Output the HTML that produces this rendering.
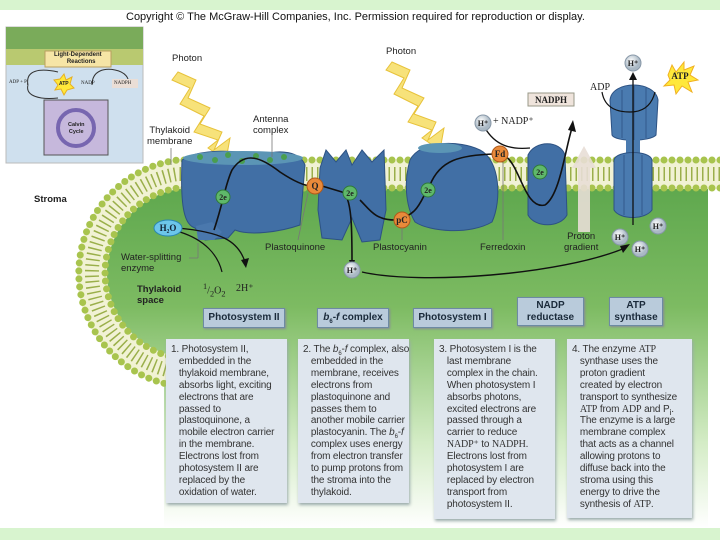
<!DOCTYPE html>
<html><head><meta charset="utf-8"><style>
body{margin:0;width:720px;height:540px;overflow:hidden;background:#fff;font-family:"Liberation Sans",sans-serif;position:relative}
.t{position:absolute;font-size:9.5px;color:#222;white-space:nowrap}
.lb{position:absolute;background:#b9cbdb;border:1px solid #6d8aa3;font-weight:bold;font-size:10px;color:#1a2a3a;text-align:center;box-shadow:1px 1px 2px #889}
.bx{position:absolute;background:#dfe6ee;box-shadow:1px 2px 3px #9aa;font-size:10px;letter-spacing:-0.15px;line-height:11.9px;color:#333;padding:5px 3px 4px 5px;box-sizing:border-box;white-space:nowrap}
.bx span.s{font-family:"Liberation Serif",serif}
</style></head><body>
<div style="position:absolute;left:0;top:0;width:720px;height:10px;background:#d8f4cf"></div>
<div class="t" style="left:126px;top:11px;font-size:11px;color:#111">Copyright © The McGraw-Hill Companies, Inc. Permission required for reproduction or display.</div>
<svg width="720" height="540" style="position:absolute;left:0;top:0">
<defs>
<linearGradient id="g" x1="0" y1="0" x2="0" y2="1"><stop offset="0" stop-color="#5fa84e"/><stop offset="0.35" stop-color="#7dbb62"/><stop offset="0.75" stop-color="#d4ecc6"/><stop offset="1" stop-color="#ffffff"/></linearGradient>
<radialGradient id="hb" cx="0.4" cy="0.35"><stop offset="0" stop-color="#fff"/><stop offset="1" stop-color="#a9b8c4"/></radialGradient>
</defs>
<path d="M708,188 L178,188 A86,86 0 0 0 150,355 L164,362 L164,528 L708,528 Z" fill="url(#g)"/>
<path d="M720,174 L178,174 A100,100 0 0 0 190,373" fill="none" stroke="#f1f2d4" stroke-width="30"/>
<path d="M720,174 L178,174 A100,100 0 0 0 190,373" fill="none" stroke="#9aaf4a" stroke-width="14" stroke-dasharray="1.5 4"/>
<path d="M720,160 L178,160 A114,114 0 0 0 190,387" fill="none" stroke="#a8c44e" stroke-width="7" stroke-linecap="round" stroke-dasharray="0 8"/>
<path d="M720,188 L178,188 A86,86 0 0 0 190,359" fill="none" stroke="#a8c44e" stroke-width="7" stroke-linecap="round" stroke-dasharray="0 8"/>
<!-- bolts -->
<polygon points="178,72 196,80 188,98 210,108 200,124 222,132 214,150 230,138 226,160 208,148 218,140 194,132 204,116 180,104 190,88 172,80" fill="#f7e27a" stroke="#e7c23a"/>
<polygon points="392,62 410,70 402,88 424,98 414,114 436,122 428,140 444,128 440,150 422,138 432,130 408,122 418,106 394,94 404,78 386,70" fill="#f7e27a" stroke="#e7c23a"/>
<!-- PSII -->
<path d="M182,160 C200,148 240,150 260,156 C280,148 300,152 305,165 L300,225 C280,232 250,236 235,230 L228,238 L205,240 L195,228 C185,225 180,210 182,160Z" fill="#416fa5" stroke="#2d5283"/>
<ellipse cx="243" cy="158" rx="60" ry="7" fill="#5b95b5"/>
<g fill="#4a9e4f"><circle cx="200" cy="157" r="3"/><circle cx="215" cy="160" r="3"/><circle cx="228" cy="155" r="3"/><circle cx="242" cy="161" r="3"/><circle cx="256" cy="156" r="3"/><circle cx="270" cy="160" r="3"/><circle cx="284" cy="157" r="3"/></g>
<path d="M196,226 L212,222 L222,232 L214,240 L198,240Z" fill="#4a78ad"/>
<!-- b6f -->
<path d="M320,168 L326,150 L336,162 L346,150 L352,165 L362,150 L372,162 L384,150 L386,210 L380,240 L362,242 L352,218 L342,240 L322,238 L318,210Z" fill="#416fa5" stroke="#2d5283"/>
<!-- PSI -->
<path d="M410,160 C420,140 460,140 480,150 C500,160 502,200 492,222 C470,235 430,232 415,222 C405,205 404,180 410,160Z" fill="#416fa5" stroke="#2d5283"/>
<ellipse cx="440" cy="148" rx="22" ry="5" fill="#5b95b5"/>
<!-- NADP reductase -->
<path d="M528,155 C535,140 560,140 565,155 L567,215 C560,228 535,228 528,215Z" fill="#416fa5" stroke="#2d5283"/>
<!-- ATP synthase -->
<path d="M610,100 C612,80 655,80 658,100 L656,135 C650,142 615,142 612,135Z" fill="#4a7bb0" stroke="#2d5283"/>
<rect x="626" y="138" width="14" height="20" fill="#4a7bb0"/>
<path d="M614,160 C616,150 650,150 652,160 L652,210 C645,220 620,220 614,210Z" fill="#4a7bb0" stroke="#2d5283"/>
<g stroke="#2d5283" stroke-width="0.8"><line x1="622" y1="90" x2="622" y2="138"/><line x1="634" y1="86" x2="634" y2="140"/><line x1="646" y1="88" x2="646" y2="138"/><line x1="624" y1="155" x2="624" y2="215"/><line x1="633" y1="152" x2="633" y2="218"/><line x1="642" y1="155" x2="642" y2="215"/></g>
<line x1="633" y1="225" x2="633" y2="78" stroke="#111" stroke-width="1.3"/><polygon points="629,80 633,72 637,80" fill="#111"/>
<path d="M602,92 C605,110 620,112 630,112 C645,112 652,104 655,92" fill="none" stroke="#111" stroke-width="1.2"/>
<!-- proton gradient arrow -->
<polygon points="578,232 578,168 572,168 584,146 596,168 590,168 590,232" fill="#e8ded6" opacity="0.9"/>
<!-- electron path -->
<path d="M214,230 C224,200 225,185 232,170 C245,150 262,158 280,172 C295,182 305,186 312,186 M322,186 L342,192 C352,196 352,230 352,262 M360,200 C370,210 375,220 395,220 C420,215 420,200 430,185 C440,160 460,155 495,154 M505,156 C520,165 525,210 545,205 C560,195 565,150 572,128" fill="none" stroke="#111" stroke-width="1.6"/>
<polygon points="349,260 352,268 355,260" fill="#111"/>
<polygon points="568,130 573,120 576,132" fill="#111"/>
<path d="M485,128 C495,145 510,150 530,148" fill="none" stroke="#111" stroke-width="1.3"/>
<path d="M362,272 C420,285 560,275 625,248" fill="none" stroke="#111" stroke-width="1.4"/><polygon points="620,246 630,244 623,253" fill="#111"/>
<path d="M178,228 C220,232 238,240 245,262" fill="none" stroke="#111" stroke-width="1.3"/><polygon points="241,260 246,268 249,258" fill="#111"/>
<path d="M180,232 C205,240 218,255 222,272" fill="none" stroke="#111" stroke-width="1.2"/>
<!-- small circles -->
<g font-family="Liberation Serif" font-size="9" text-anchor="middle" font-weight="bold">
<circle cx="315" cy="186" r="8" fill="#e98a3a" stroke="#b25a1a"/><text x="315" y="189" fill="#222">Q</text>
<circle cx="402" cy="220" r="8" fill="#e98a3a" stroke="#b25a1a"/><text x="402" y="223" fill="#222">pC</text>
<circle cx="500" cy="154" r="8" fill="#e98a3a" stroke="#b25a1a"/><text x="500" y="157" fill="#222">Fd</text>
<g fill="#5fb86a" stroke="#2f7a3a"><circle cx="223" cy="197" r="7"/><circle cx="350" cy="193" r="7"/><circle cx="428" cy="190" r="7"/><circle cx="540" cy="172" r="7"/></g>
<g fill="#222" font-size="8"><text x="223" y="200">2e</text><text x="350" y="196">2e</text><text x="428" y="193">2e</text><text x="540" y="175">2e</text></g>
<g fill="url(#hb)" stroke="#8898a8"><circle cx="352" cy="270" r="8"/><circle cx="483" cy="123" r="8"/><circle cx="633" cy="63" r="8"/><circle cx="620" cy="237" r="8"/><circle cx="658" cy="226" r="8"/><circle cx="640" cy="249" r="8"/></g>
<g fill="#222" font-size="8"><text x="352" y="273">H⁺</text><text x="483" y="126">H⁺</text><text x="633" y="66">H⁺</text><text x="620" y="240">H⁺</text><text x="658" y="229">H⁺</text><text x="640" y="252">H⁺</text></g>
<ellipse cx="168" cy="228" rx="14" ry="8" fill="#6cc6ea" stroke="#2a86b0"/><text x="168" y="231" fill="#123" font-size="9">H₂O</text>
<polygon points="668,75 672,65 676,72 684,62 684,70 694,66 690,75 698,80 688,82 692,92 682,86 676,94 674,85 664,86 670,80" fill="#ffe83a" stroke="#f0b020"/>
<text x="680" y="79" fill="#222" font-size="9">ATP</text>
<rect x="528" y="93" width="46" height="13" fill="#efe4dc" stroke="#998"/><text x="551" y="103" fill="#222" font-size="9">NADPH</text>
</g>
<!-- leader lines -->
<g stroke="#777" stroke-width="0.8"><line x1="171" y1="148" x2="171" y2="165"/><line x1="272" y1="132" x2="272" y2="157"/><line x1="308" y1="193" x2="298" y2="240"/><line x1="402" y1="228" x2="402" y2="240"/><line x1="503" y1="162" x2="503" y2="240"/><line x1="198" y1="243" x2="198" y2="258"/><line x1="189" y1="258" x2="198" y2="258"/></g>
<!-- inset -->
<rect x="6" y="27" width="137" height="136" fill="#cfe0ee" stroke="#bbb"/>
<rect x="6" y="27" width="137" height="22" fill="#7aab5a"/>
<rect x="6" y="49" width="137" height="16" fill="#b9c970"/>
<rect x="45" y="51" width="66" height="16" fill="#f6e5a6" stroke="#b9a060"/>
<rect x="44" y="100" width="64" height="55" fill="#c6b8dc" stroke="#555"/>
<circle cx="76" cy="128" r="18" fill="none" stroke="#7766b0" stroke-width="4"/>
<path d="M28,85 C25,70 40,68 58,72 M58,98 C40,100 25,96 28,85 M92,85 C92,70 105,68 115,70 C125,72 130,78 128,85" fill="none" stroke="#333"/>
<polygon points="60,79 64,74 66,80 72,77 70,84 74,88 67,90 64,95 61,89 55,90 58,85 54,80" fill="#ffe83a" stroke="#e7b020"/>
<rect x="112" y="79" width="26" height="9" fill="#eaded6"/>
</svg>
<div style="position:absolute;left:0;top:528px;width:720px;height:12px;background:#d8f4cf"></div>
<div class="t" style="left:54px;top:52px;font-size:6px;font-weight:bold;text-align:center;line-height:7px">Light-Dependent<br>&nbsp;&nbsp;&nbsp;&nbsp;Reactions</div>
<div class="t" style="left:9px;top:80px;font-size:5px;font-family:'Liberation Serif'">ADP + P<sub>i</sub></div>
<div class="t" style="left:59px;top:81px;font-size:5px;font-weight:bold">ATP</div>
<div class="t" style="left:81px;top:81px;font-size:5px;font-family:'Liberation Serif'">NADP</div>
<div class="t" style="left:114px;top:81px;font-size:5px;font-family:'Liberation Serif'">NADPH</div>
<div class="t" style="left:68px;top:122px;font-size:5.5px;font-weight:bold;line-height:7px;text-align:center">Calvin<br>Cycle</div>
<div class="t" style="left:172px;top:53px">Photon</div>
<div class="t" style="left:386px;top:46px">Photon</div>
<div class="t" style="left:253px;top:114px;line-height:11px">Antenna<br>complex</div>
<div class="t" style="left:147px;top:125px;line-height:11px;text-align:center">Thylakoid<br>membrane</div>
<div class="t" style="left:34px;top:194px;font-weight:bold">Stroma</div>
<div class="t" style="left:265px;top:242px">Plastoquinone</div>
<div class="t" style="left:373px;top:242px">Plastocyanin</div>
<div class="t" style="left:480px;top:242px">Ferredoxin</div>
<div class="t" style="left:564px;top:231px;line-height:11px;text-align:center">Proton<br>gradient</div>
<div class="t" style="left:121px;top:252px;line-height:11px">Water-splitting<br>enzyme</div>
<div class="t" style="left:137px;top:284px;font-weight:bold;line-height:11px">Thylakoid<br>space</div>
<div class="t" style="left:203px;top:282px;font-family:'Liberation Serif';font-size:10px"><sup>1</sup>/<sub>2</sub>O<sub>2</sub></div>
<div class="t" style="left:236px;top:283px;font-family:'Liberation Serif';font-size:10px">2H⁺</div>
<div class="t" style="left:493px;top:116px;font-family:'Liberation Serif';font-size:10px">+ NADP⁺</div>
<div class="t" style="left:590px;top:82px;font-family:'Liberation Serif';font-size:10px">ADP</div>
<div class="lb" style="left:203px;top:308px;width:80px;height:18px;line-height:18px">Photosystem II</div>
<div class="lb" style="left:317px;top:308px;width:70px;height:18px;line-height:18px"><i>b</i><sub style="font-size:6px;line-height:0">6</sub>-<i>f</i> complex</div>
<div class="lb" style="left:413px;top:308px;width:77px;height:18px;line-height:18px">Photosystem I</div>
<div class="lb" style="left:517px;top:297px;width:67px;height:29px;line-height:12px;padding-top:2px;box-sizing:border-box">NADP<br>reductase</div>
<div class="lb" style="left:609px;top:297px;width:54px;height:29px;line-height:12px;padding-top:2px;box-sizing:border-box">ATP<br>synthase</div>
<div class="bx" style="left:166px;top:339px;width:121px;height:164px">1. Photosystem II,<br>&nbsp;&nbsp;&nbsp;embedded in the<br>&nbsp;&nbsp;&nbsp;thylakoid membrane,<br>&nbsp;&nbsp;&nbsp;absorbs light, exciting<br>&nbsp;&nbsp;&nbsp;electrons that are<br>&nbsp;&nbsp;&nbsp;passed to<br>&nbsp;&nbsp;&nbsp;plastoquinone, a<br>&nbsp;&nbsp;&nbsp;mobile electron carrier<br>&nbsp;&nbsp;&nbsp;in the membrane.<br>&nbsp;&nbsp;&nbsp;Electrons lost from<br>&nbsp;&nbsp;&nbsp;photosystem II are<br>&nbsp;&nbsp;&nbsp;replaced by the<br>&nbsp;&nbsp;&nbsp;oxidation of water.</div>
<div class="bx" style="left:298px;top:339px;width:111px;height:164px">2. The <i>b</i><sub style="font-size:6px;line-height:0">6</sub>-<i>f</i> complex, also<br>&nbsp;&nbsp;&nbsp;embedded in the<br>&nbsp;&nbsp;&nbsp;membrane, receives<br>&nbsp;&nbsp;&nbsp;electrons from<br>&nbsp;&nbsp;&nbsp;plastoquinone and<br>&nbsp;&nbsp;&nbsp;passes them to<br>&nbsp;&nbsp;&nbsp;another mobile carrier<br>&nbsp;&nbsp;&nbsp;plastocyanin. The <i>b</i><sub style="font-size:6px;line-height:0">6</sub>-<i>f</i><br>&nbsp;&nbsp;&nbsp;complex uses energy<br>&nbsp;&nbsp;&nbsp;from electron transfer<br>&nbsp;&nbsp;&nbsp;to pump protons from<br>&nbsp;&nbsp;&nbsp;the stroma into the<br>&nbsp;&nbsp;&nbsp;thylakoid.</div>
<div class="bx" style="left:434px;top:339px;width:121px;height:180px">3. Photosystem I is the<br>&nbsp;&nbsp;&nbsp;last membrane<br>&nbsp;&nbsp;&nbsp;complex in the chain.<br>&nbsp;&nbsp;&nbsp;When photosystem I<br>&nbsp;&nbsp;&nbsp;absorbs photons,<br>&nbsp;&nbsp;&nbsp;excited electrons are<br>&nbsp;&nbsp;&nbsp;passed through a<br>&nbsp;&nbsp;&nbsp;carrier to reduce<br>&nbsp;&nbsp;&nbsp;<span class="s">NADP⁺</span> to <span class="s">NADPH</span>.<br>&nbsp;&nbsp;&nbsp;Electrons lost from<br>&nbsp;&nbsp;&nbsp;photosystem I are<br>&nbsp;&nbsp;&nbsp;replaced by electron<br>&nbsp;&nbsp;&nbsp;transport from<br>&nbsp;&nbsp;&nbsp;photosystem II.</div>
<div class="bx" style="left:567px;top:339px;width:125px;height:179px">4. The enzyme <span class="s">ATP</span><br>&nbsp;&nbsp;&nbsp;synthase uses the<br>&nbsp;&nbsp;&nbsp;proton gradient<br>&nbsp;&nbsp;&nbsp;created by electron<br>&nbsp;&nbsp;&nbsp;transport to synthesize<br>&nbsp;&nbsp;&nbsp;<span class="s">ATP</span> from <span class="s">ADP</span> and P<sub style="line-height:0">i</sub>.<br>&nbsp;&nbsp;&nbsp;The enzyme is a large<br>&nbsp;&nbsp;&nbsp;membrane complex<br>&nbsp;&nbsp;&nbsp;that acts as a channel<br>&nbsp;&nbsp;&nbsp;allowing protons to<br>&nbsp;&nbsp;&nbsp;diffuse back into the<br>&nbsp;&nbsp;&nbsp;stroma using this<br>&nbsp;&nbsp;&nbsp;energy to drive the<br>&nbsp;&nbsp;&nbsp;synthesis of <span class="s">ATP</span>.</div>
</body></html>
